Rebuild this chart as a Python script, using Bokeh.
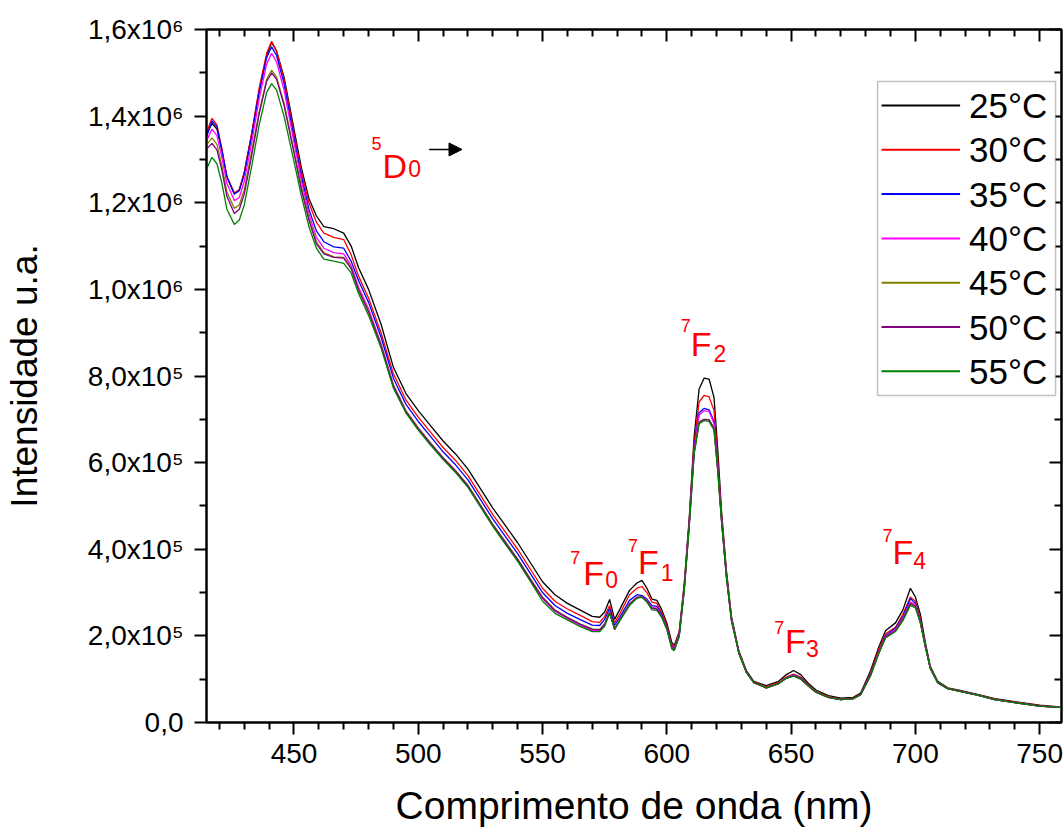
from bokeh.plotting import figure
from bokeh.models import (FixedTicker, LinearAxis, Range1d, BoxAnnotation,
                          CustomJSTickFormatter, Arrow, NormalHead)
from bokeh.core.properties import value
from bokeh.embed import file_html
from bokeh.resources import INLINE

# ---------------- data (intensity in units of 1e5) ----------------
wavelength = [
    415, 417, 419, 421, 423, 426, 428, 430, 433, 436, 439, 441, 443, 446,
    450, 453, 456, 459, 462, 466, 470, 473, 476,
    480, 485, 490, 495, 500, 505, 510, 515, 520, 525, 530, 535, 540, 545, 550, 555, 560, 565, 570,
    573, 575, 577, 579, 581, 585, 588, 590, 592, 594, 596, 598, 600, 602, 603, 605, 607,
    609, 611, 613, 615, 617, 619, 620.5, 622, 624, 626, 629, 632, 635,
    640, 645, 648, 651, 654, 657, 660, 665, 670, 675, 678,
    682, 685, 688, 692, 695, 698, 700, 702, 704, 706, 709, 713, 718, 725, 732, 740, 745, 750, 758,
]

t25 = [
    13.6, 13.83, 13.7, 13.2, 12.6, 12.2, 12.3, 12.7, 13.6, 14.6, 15.4, 15.7, 15.5, 14.9,
    13.7, 12.8, 12.1, 11.7, 11.45, 11.4, 11.3, 11.0, 10.5,
    10.0, 9.2, 8.2, 7.6, 7.2, 6.85, 6.5, 6.2, 5.85, 5.4, 4.95, 4.55, 4.15, 3.7, 3.25, 2.95, 2.75, 2.6, 2.45,
    2.43, 2.55, 2.84, 2.38, 2.6, 3.05, 3.22, 3.28, 3.1, 2.85, 2.82, 2.6, 2.3, 1.85, 1.78, 2.1, 3.2,
    4.7, 6.6, 7.7, 7.95, 7.93, 7.5, 6.3, 4.9, 3.5, 2.45, 1.65, 1.2, 0.95,
    0.85, 0.95, 1.1, 1.2, 1.1, 0.9, 0.75, 0.62, 0.56, 0.58, 0.68,
    1.2, 1.7, 2.12, 2.3, 2.6, 3.1, 2.9, 2.5, 1.85, 1.3, 0.95, 0.8, 0.74, 0.65, 0.55, 0.48, 0.44, 0.4, 0.36,
]
t30 = [
    13.65, 13.95, 13.8, 13.25, 12.6, 12.23, 12.3, 12.7, 13.6, 14.65, 15.45, 15.73, 15.5, 14.85,
    13.6, 12.7, 12.0, 11.55, 11.3, 11.2, 11.15, 10.8, 10.3,
    9.8, 9.0, 8.05, 7.45, 7.05, 6.7, 6.35, 6.05, 5.7, 5.25, 4.8, 4.4, 4.0, 3.55, 3.1, 2.8, 2.62, 2.48, 2.33,
    2.31, 2.45, 2.7, 2.3, 2.5, 2.95, 3.1, 3.14, 3.0, 2.78, 2.75, 2.52, 2.25, 1.8, 1.74, 2.08, 3.15,
    4.65, 6.45, 7.4, 7.55, 7.52, 7.2, 6.1, 4.8, 3.45, 2.42, 1.62, 1.18, 0.93,
    0.82, 0.92, 1.05, 1.12, 1.05, 0.86, 0.72, 0.6, 0.54, 0.56, 0.66,
    1.15, 1.65, 2.05, 2.2, 2.5, 2.9, 2.8, 2.4, 1.8, 1.28, 0.93, 0.79, 0.73, 0.64, 0.54, 0.47, 0.43, 0.39, 0.35,
]
t35 = [
    13.55, 13.89, 13.75, 13.2, 12.6, 12.2, 12.28, 12.65, 13.55, 14.55, 15.35, 15.6, 15.4, 14.75,
    13.5, 12.6, 11.85, 11.35, 11.1, 10.98, 10.95, 10.65, 10.2,
    9.7, 8.9, 7.95, 7.35, 6.95, 6.6, 6.25, 5.95, 5.6, 5.15, 4.7, 4.3, 3.9, 3.45, 3.0, 2.7, 2.52, 2.38, 2.25,
    2.24, 2.38, 2.63, 2.24, 2.42, 2.82, 2.95, 2.93, 2.85, 2.7, 2.68, 2.48, 2.2, 1.77, 1.71, 2.05, 3.1,
    4.6, 6.35, 7.15, 7.25, 7.22, 6.95, 5.95, 4.72, 3.4, 2.4, 1.6, 1.17, 0.92,
    0.8, 0.9, 1.02, 1.1, 1.02, 0.85, 0.7, 0.58, 0.53, 0.55, 0.65,
    1.12, 1.6, 2.0, 2.18, 2.45, 2.86, 2.75, 2.35, 1.78, 1.26, 0.92, 0.78, 0.72, 0.63, 0.53, 0.46, 0.42, 0.38, 0.35,
]
t40 = [
    13.45, 13.7, 13.55, 13.05, 12.45, 12.05, 12.12, 12.5, 13.4, 14.4, 15.2, 15.45, 15.25, 14.6,
    13.4, 12.5, 11.75, 11.2, 10.95, 10.85, 10.82, 10.55, 10.05,
    9.55, 8.75, 7.8, 7.2, 6.8, 6.45, 6.1, 5.8, 5.45, 5.0, 4.55, 4.15, 3.75, 3.3, 2.86, 2.57, 2.4, 2.25, 2.12,
    2.12, 2.25, 2.55, 2.14, 2.35, 2.75, 2.9, 2.9, 2.82, 2.66, 2.64, 2.45, 2.18, 1.75, 1.7, 2.03, 3.08,
    4.58, 6.3, 7.1, 7.2, 7.18, 6.9, 5.9, 4.7, 3.38, 2.38, 1.6, 1.16, 0.92,
    0.8, 0.9, 1.02, 1.1, 1.0, 0.84, 0.7, 0.58, 0.53, 0.55, 0.64,
    1.1, 1.58, 1.98, 2.15, 2.42, 2.78, 2.72, 2.33, 1.77, 1.25, 0.92, 0.78, 0.72, 0.63, 0.53, 0.46, 0.42, 0.38, 0.35,
]
t45 = [
    13.35, 13.5, 13.35, 12.85, 12.25, 11.87, 11.95, 12.3, 13.2, 14.1, 14.85, 15.06, 14.9, 14.3,
    13.2, 12.35, 11.65, 11.1, 10.85, 10.75, 10.74, 10.5, 10.0,
    9.5, 8.72, 7.78, 7.2, 6.8, 6.45, 6.12, 5.82, 5.48, 5.03, 4.58, 4.18, 3.78, 3.33, 2.9, 2.6, 2.43, 2.28, 2.16,
    2.15, 2.28, 2.55, 2.16, 2.36, 2.74, 2.88, 2.9, 2.8, 2.64, 2.62, 2.44, 2.17, 1.74, 1.68, 2.02, 3.06,
    4.55, 6.25, 6.95, 7.0, 7.0, 6.8, 5.85, 4.68, 3.36, 2.37, 1.6, 1.16, 0.92,
    0.8, 0.9, 1.02, 1.08, 1.0, 0.84, 0.7, 0.58, 0.53, 0.55, 0.64,
    1.1, 1.57, 1.97, 2.12, 2.4, 2.75, 2.7, 2.32, 1.76, 1.25, 0.92, 0.78, 0.72, 0.63, 0.53, 0.46, 0.42, 0.38, 0.35,
]
t50 = [
    13.25, 13.37, 13.22, 12.75, 12.15, 11.75, 11.85, 12.2, 13.1, 14.05, 14.8, 15.0, 14.85, 14.25,
    13.15, 12.3, 11.6, 11.05, 10.82, 10.74, 10.72, 10.48, 9.98,
    9.48, 8.7, 7.76, 7.18, 6.78, 6.43, 6.1, 5.8, 5.46, 5.01, 4.56, 4.16, 3.76, 3.31, 2.88, 2.58, 2.42, 2.27, 2.15,
    2.14, 2.27, 2.54, 2.15, 2.35, 2.73, 2.88, 2.9, 2.8, 2.64, 2.62, 2.44, 2.17, 1.73, 1.67, 2.0, 3.05,
    4.54, 6.22, 6.92, 7.0, 6.98, 6.78, 5.83, 4.67, 3.35, 2.36, 1.6, 1.16, 0.92,
    0.8, 0.9, 1.02, 1.08, 1.0, 0.84, 0.7, 0.58, 0.53, 0.55, 0.64,
    1.09, 1.56, 1.96, 2.12, 2.38, 2.74, 2.68, 2.31, 1.75, 1.25, 0.92, 0.78, 0.72, 0.63, 0.53, 0.46, 0.42, 0.38, 0.35,
]
t55 = [
    12.8, 13.05, 12.9, 12.45, 11.85, 11.5, 11.6, 11.95, 12.85, 13.8, 14.55, 14.75, 14.6, 14.0,
    12.95, 12.15, 11.45, 10.95, 10.7, 10.65, 10.6, 10.38, 9.9,
    9.4, 8.65, 7.72, 7.15, 6.75, 6.4, 6.07, 5.77, 5.43, 4.98, 4.53, 4.12, 3.72, 3.27, 2.8, 2.52, 2.37, 2.22, 2.1,
    2.1, 2.22, 2.52, 2.17, 2.34, 2.7, 2.87, 2.89, 2.78, 2.6, 2.59, 2.42, 2.15, 1.7, 1.66, 1.98, 3.03,
    4.5, 6.2, 6.9, 6.97, 6.95, 6.75, 5.8, 4.65, 3.34, 2.35, 1.6, 1.16, 0.92,
    0.8, 0.9, 1.02, 1.07, 1.0, 0.84, 0.7, 0.58, 0.53, 0.55, 0.64,
    1.08, 1.55, 1.95, 2.1, 2.35, 2.7, 2.65, 2.3, 1.75, 1.25, 0.92, 0.78, 0.72, 0.63, 0.53, 0.46, 0.42, 0.38, 0.35,
]

series_labels = ["25°C", "30°C", "35°C", "40°C", "45°C", "50°C", "55°C"]
series_values = [t25, t30, t35, t40, t45, t50, t55]
series_colors = ["#000000", "#FF0000", "#0000FF", "#FF00FF", "#808000", "#800080", "#008000"]

x_ticks = [450, 500, 550, 600, 650, 700, 750]
x_minor = [420, 430, 440, 460, 470, 480, 490, 510, 520, 530, 540, 560, 570, 580, 590,
           610, 620, 630, 640, 660, 670, 680, 690, 710, 720, 730, 740, 760]
y_ticks = [0, 200000, 400000, 600000, 800000, 1000000, 1200000, 1400000, 1600000]
y_tick_labels = ["0,0", "2,0x10⁵", "4,0x10⁵", "6,0x10⁵", "8,0x10⁵",
                 "1,0x10⁶", "1,2x10⁶", "1,4x10⁶", "1,6x10⁶"]
y_minor = [100000, 300000, 500000, 700000, 900000, 1100000, 1300000, 1500000]

# transition labels (main letter, superscript, subscript) in data coords (y in 1e5)
ann_main = ["D", "F", "F", "F", "F", "F"]
ann_main_x = [485.6, 566.4, 588.4, 609.6, 647.6, 690.8]
ann_main_y = [12.86, 3.46, 3.70, 8.75, 1.89, 3.93]
ann_sup = ["5", "7", "7", "7", "7", "7"]
ann_sup_x = [481.2, 561.2, 584.4, 605.6, 643.2, 686.8]
ann_sup_y = [13.37, 3.81, 4.09, 9.17, 2.19, 4.32]
ann_sub = ["0", "0", "1", "2", "3", "4"]
ann_sub_x = [496.0, 575.2, 597.6, 618.8, 656.0, 699.2]
ann_sub_y = [12.78, 3.30, 3.46, 8.52, 1.71, 3.74]
arrow_x = [504.4, 517.6]
arrow_y = 13.23

SCALE = 1e5
FONT = "Liberation Sans"

# ---------------- layout (pixels) ----------------
W, H = 1063, 829
FRAME_L, FRAME_R, FRAME_T, FRAME_B = 201, 1061, 29, 722
X0, X1 = 414.8, 758.8
Y0, Y1 = 0.0, 1.6e6

def px_to_x(px):
    return X0 + (px - FRAME_L) * (X1 - X0) / (FRAME_R - FRAME_L)

def py_to_y(py):
    return Y0 + (FRAME_B - py) * (Y1 - Y0) / (FRAME_B - FRAME_T)

# legend geometry (screen pixels)
LEG_BOX = (876, 81, 1055, 395)        # left, top, right, bottom
LEG_ROW0, LEG_ROW_STEP = 105, 44.3
LEG_LINE = (880, 959)
LEG_TEXT_X = 968

p = figure(width=W, height=H, output_backend="svg", toolbar_location=None,
           x_range=Range1d(X0, X1), y_range=Range1d(Y0, Y1),
           min_border_left=FRAME_L, min_border_right=W - FRAME_R,
           min_border_top=FRAME_T, min_border_bottom=H - FRAME_B)
p.xaxis.visible = False
p.yaxis.visible = False
p.grid.visible = False
p.outline_line_color = "#000000"
p.outline_line_width = 2
p.background_fill_color = "white"
p.border_fill_color = "white"

for vals, col in zip(series_values, series_colors):
    p.line(x=wavelength, y=[v * SCALE for v in vals], line_color=col, line_width=1.3)

def style_axis(ax, labels=True):
    ax.axis_line_width = 2
    ax.axis_line_color = "#000000"
    ax.major_tick_line_width = 2
    ax.minor_tick_line_width = 2
    ax.major_tick_line_color = "#000000"
    ax.minor_tick_line_color = "#000000"
    ax.major_label_text_font = FONT
    ax.major_label_text_font_size = "28px"
    ax.major_label_text_color = "#000000"
    ax.axis_label_text_font = FONT
    ax.axis_label_text_font_style = "normal"
    ax.axis_label_text_color = "#000000"
    if not labels:
        ax.formatter = CustomJSTickFormatter(code="return ''")
        ax.major_label_standoff = 0

xt = FixedTicker(ticks=x_ticks, minor_ticks=x_minor)
yt = FixedTicker(ticks=y_ticks, minor_ticks=y_minor)

bottom = LinearAxis(ticker=xt, axis_label="Comprimento de onda (nm)")
style_axis(bottom)
bottom.major_tick_out = 12
bottom.major_tick_in = 0
bottom.minor_tick_out = 7
bottom.minor_tick_in = 0
bottom.major_label_standoff = 9
bottom.axis_label_text_font_size = "39px"
bottom.axis_label_standoff = 18
p.add_layout(bottom, "below")

left = LinearAxis(ticker=yt, axis_label="Intensidade u.a.")
style_axis(left)
left.major_tick_out = 12
left.major_tick_in = 0
left.minor_tick_out = 7
left.minor_tick_in = 0
left.major_label_standoff = 11
left.major_label_overrides = {t: s for t, s in zip(y_ticks, y_tick_labels)}
left.axis_label_text_font_size = "37px"
left.axis_label_standoff = 40
p.add_layout(left, "left")

top = LinearAxis(ticker=xt)
style_axis(top, labels=False)
top.major_tick_out = 0
top.major_tick_in = 12
top.minor_tick_out = 0
top.minor_tick_in = 7
p.add_layout(top, "above")

right = LinearAxis(ticker=yt)
style_axis(right, labels=False)
right.major_tick_out = 0
right.major_tick_in = 12
right.minor_tick_out = 0
right.minor_tick_in = 7
p.add_layout(right, "right")

# transition labels
red = "#FF0000"
p.text(x=ann_main_x, y=[v * SCALE for v in ann_main_y], text=ann_main,
       text_font=value(FONT), text_font_size="34px", text_color=red,
       text_align="left", text_baseline="alphabetic")
p.text(x=ann_sup_x, y=[v * SCALE for v in ann_sup_y], text=ann_sup,
       text_font=value(FONT), text_font_size="18px", text_color=red,
       text_align="left", text_baseline="alphabetic")
p.text(x=ann_sub_x, y=[v * SCALE for v in ann_sub_y], text=ann_sub,
       text_font=value(FONT), text_font_size="23px", text_color=red,
       text_align="left", text_baseline="alphabetic")

p.add_layout(Arrow(end=NormalHead(size=13, fill_color="#000000", line_color="#000000"),
                   x_start=arrow_x[0], y_start=arrow_y * SCALE,
                   x_end=arrow_x[1], y_end=arrow_y * SCALE,
                   line_color="#000000", line_width=1.5))

# ---------------- legend (drawn by hand so the sample colours show) ----------------
bl, bt, br, bb = LEG_BOX
p.add_layout(BoxAnnotation(left=px_to_x(bl), right=px_to_x(br),
                           top=py_to_y(bt), bottom=py_to_y(bb),
                           fill_color="white", fill_alpha=1.0,
                           line_color="#333333", line_width=1.5, level="annotation"))
rows_y = [py_to_y(LEG_ROW0 + i * LEG_ROW_STEP) for i in range(len(series_labels))]
p.segment(x0=[px_to_x(LEG_LINE[0])] * len(rows_y), x1=[px_to_x(LEG_LINE[1])] * len(rows_y),
          y0=rows_y, y1=rows_y, line_color=series_colors, line_width=2, level="overlay")
p.text(x=[px_to_x(LEG_TEXT_X)] * len(rows_y), y=rows_y, text=series_labels,
       text_font=value(FONT), text_font_size="35px", text_color="#000000",
       text_align="left", text_baseline="middle", level="overlay")

open("out.html", "w").write(file_html(p, INLINE))
